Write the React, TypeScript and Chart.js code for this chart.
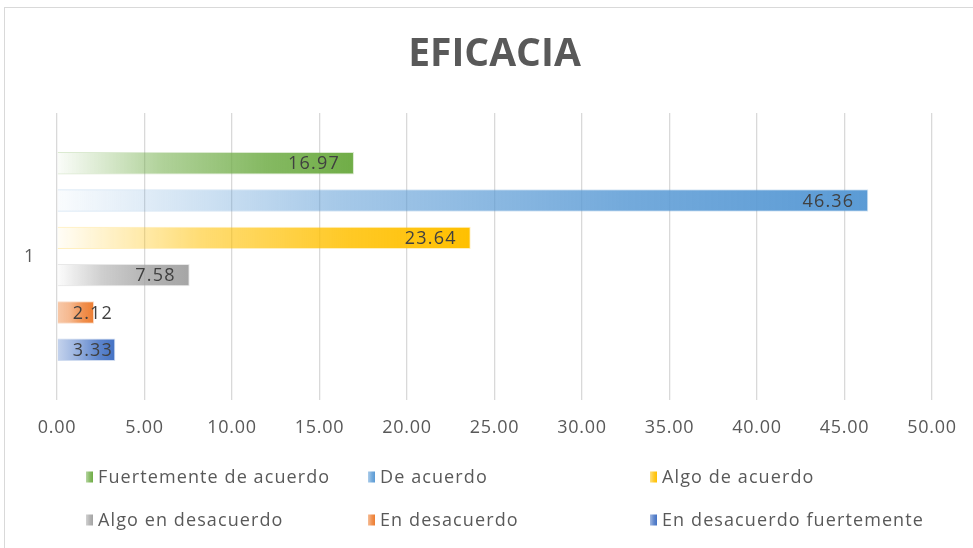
import React, { useEffect, useRef } from 'react';
import { Chart, registerables } from 'chart.js';

Chart.register(...registerables);

const chartTitle = 'EFICACIA';
const categories = ['1'];
const seriesNames = [
  'Fuertemente de acuerdo',
  'De acuerdo',
  'Algo de acuerdo',
  'Algo en desacuerdo',
  'En desacuerdo',
  'En desacuerdo fuertemente',
];
const seriesValues = [16.97, 46.36, 23.64, 7.58, 2.12, 3.33];
const seriesColors = ['#70AD47', '#5B9BD5', '#FFC000', '#A5A5A5', '#ED7D31', '#4472C4'];
const xMin = 0;
const xMax = 50;
const xStep = 5;

const TEXT = '#595959';
const LABEL = '#404040';
const GRID = '#d9d9d9';
const FONT = '"Open Sans", "DejaVu Sans", sans-serif';

function rgba(hex: string, a: number) {
  const n = parseInt(hex.slice(1), 16);
  return `rgba(${(n >> 16) & 255},${(n >> 8) & 255},${n & 255},${a})`;
}

function makeGradient(ctx: CanvasRenderingContext2D, color: string, x0: number, x1: number) {
  const w = Math.max(1, Math.abs(x1 - x0));
  const a0 = Math.min(0.6, Math.max(0.03, 0.6 - w / 200));
  const g = ctx.createLinearGradient(x0, 0, x0 + w, 0);
  g.addColorStop(0, rgba(color, a0));
  g.addColorStop(0.35, rgba(color, Math.max(a0, 0.55)));
  g.addColorStop(0.7, rgba(color, 0.85));
  g.addColorStop(1, rgba(color, 1));
  return g;
}

const spacingPlugin = {
  id: 'spacing',
  beforeDraw(chart: any) {
    (chart.ctx as any).letterSpacing = '0.7px';
  },
};

const titlePlugin = {
  id: 'customTitle',
  afterDraw(chart: any) {
    const ctx = chart.ctx as CanvasRenderingContext2D;
    const ca = chart.chartArea;
    ctx.save();
    (ctx as any).letterSpacing = '0px';
    ctx.font = `bold 39px ${FONT}`;
    ctx.fillStyle = TEXT;
    ctx.textAlign = 'center';
    ctx.textBaseline = 'middle';
    ctx.fillText(chartTitle, (ca.left + ca.right) / 2, 55);
    ctx.restore();
  },
};

const labelPlugin = {
  id: 'barLabels',
  afterDatasetsDraw(chart: any) {
    const ctx = chart.ctx as CanvasRenderingContext2D;
    ctx.save();
    (ctx as any).letterSpacing = '1.2px';
    ctx.font = `18px ${FONT}`;
    ctx.fillStyle = LABEL;
    ctx.textAlign = 'left';
    ctx.textBaseline = 'middle';
    chart.data.datasets.forEach((ds: any, i: number) => {
      const meta = chart.getDatasetMeta(i);
      meta.data.forEach((el: any, j: number) => {
        const v = ds.data[j] as number;
        const txt = v.toFixed(2);
        const w = ctx.measureText(txt).width;
        let left = el.x - 14 - w;
        const minLeft = Math.min(el.base, el.x) + 15;
        if (left < minLeft) left = minLeft;
        ctx.fillText(txt, left, el.y + 1);
      });
    });
    ctx.restore();
  },
};

const legendPlugin = {
  id: 'gridLegend',
  afterDraw(chart: any) {
    const ctx = chart.ctx as CanvasRenderingContext2D;
    ctx.save();
    (ctx as any).letterSpacing = '1.1px';
    ctx.font = `18px ${FONT}`;
    ctx.textAlign = 'left';
    ctx.textBaseline = 'middle';
    chart.data.datasets.forEach((ds: any, i: number) => {
      const col = i % 3;
      const row = Math.floor(i / 3);
      const x = 86 + col * 282;
      const y = 477 + row * 43;
      const color = seriesColors[i];
      ctx.fillStyle = makeGradient(ctx, color, x - 3, x + 7);
      ctx.fillRect(x, y - 5.5, 7, 11);
      ctx.fillStyle = TEXT;
      ctx.fillText(ds.label, x + 12, y + 1);
    });
    ctx.restore();
  },
};

export default function App() {
  const ref = useRef<HTMLCanvasElement | null>(null);

  useEffect(() => {
    if (!ref.current) return;
    const chart = new Chart(ref.current, {
      type: 'bar',
      data: {
        labels: categories,
        datasets: seriesNames.map((name, i) => ({
          label: name,
          data: [seriesValues[i]],
          backgroundColor: (c: any) => {
            const ch = c.chart;
            const xs = ch.scales?.x;
            const color = seriesColors[i];
            if (!xs || !ch.chartArea || c.parsed == null) return color;
            const x0 = xs.getPixelForValue(0);
            const x1 = xs.getPixelForValue(c.parsed.x);
            return makeGradient(ch.ctx, color, x0, x1);
          },
          borderColor: rgba(seriesColors[i], 0.25),
          borderWidth: 1,
          categoryPercentage: 0.78,
          barPercentage: 0.6,
        })),
      },
      options: {
        indexAxis: 'y',
        responsive: false,
        animation: false,
        devicePixelRatio: 1,
        layout: { padding: { top: 113, right: 41, bottom: 111, left: 0 } },
        plugins: {
          legend: { display: false },
          title: { display: false },
          tooltip: { enabled: false },
        },
        scales: {
          x: {
            type: 'linear',
            min: xMin,
            max: xMax,
            afterFit: (s: any) => { s.height = 37; },
            grid: { color: GRID, lineWidth: 1.3, drawTicks: false },
            border: { display: false },
            ticks: {
              stepSize: xStep,
              padding: 17,
              color: TEXT,
              font: { family: FONT, size: 18 },
              callback: (v: any) => Number(v).toFixed(2),
            },
          },
          y: {
            type: 'category',
            afterFit: (s: any) => { s.width = 57; },
            grid: { display: false, drawTicks: false },
            border: { display: false },
            ticks: {
              padding: 22,
              color: TEXT,
              font: { family: FONT, size: 18 },
            },
          },
        },
      },
      plugins: [spacingPlugin, titlePlugin, labelPlugin, legendPlugin],
    } as any);
    return () => chart.destroy();
  }, []);

  return (
    <div style={{ position: 'fixed', left: 0, top: 0, width: 973, height: 548, background: '#fff', overflow: 'hidden' }}>
      <canvas ref={ref} width={973} height={548} style={{ display: 'block' }} />
      <div
        style={{
          position: 'absolute',
          left: 4,
          top: 7,
          width: 980,
          height: 560,
          border: '1px solid #d9d9d9',
          pointerEvents: 'none',
        }}
      />
    </div>
  );
}
